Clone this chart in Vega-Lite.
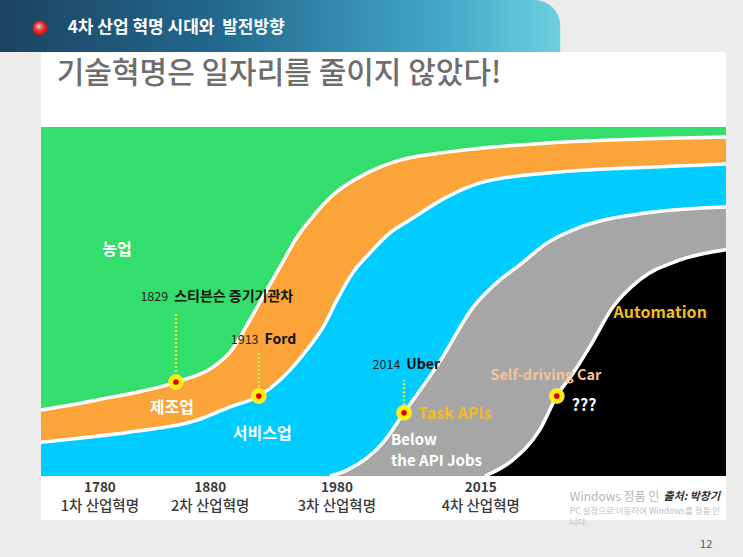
{
  "$schema": "https://vega.github.io/schema/vega-lite/v6.json",
  "width": 685,
  "height": 349,
  "autosize": {"type": "none"},
  "padding": {"left": 41, "top": 127, "right": 17, "bottom": 81},
  "background": "#ececec",
  "view": {"stroke": null},
  "config": {"text": {"font": "Noto Sans CJK KR"}},
  "datasets": {
    "bands": [
      {"s": "agri", "u": 0, "v": 100}, {"s": "agri", "u": 100, "v": 100},
      {"s": "b1", "u": 0, "v": 18.9}, {"s": "b1", "u": 8.2, "v": 21.8}, {"s": "b1", "u": 19.7, "v": 26.9}, {"s": "b1", "u": 25.1, "v": 31.2}, {"s": "b1", "u": 27.6, "v": 35.5}, {"s": "b1", "u": 30.5, "v": 44.7}, {"s": "b1", "u": 32.4, "v": 51.3}, {"s": "b1", "u": 34.9, "v": 59.9}, {"s": "b1", "u": 37.4, "v": 68.5}, {"s": "b1", "u": 39.3, "v": 73.4}, {"s": "b1", "u": 42.6, "v": 80.5}, {"s": "b1", "u": 47.6, "v": 86.8}, {"s": "b1", "u": 52.4, "v": 90.5}, {"s": "b1", "u": 59.3, "v": 92.8}, {"s": "b1", "u": 73.9, "v": 95.4}, {"s": "b1", "u": 88.5, "v": 96.6}, {"s": "b1", "u": 100, "v": 97.1},
      {"s": "b2", "u": 0, "v": 9.7}, {"s": "b2", "u": 13.0, "v": 12.6}, {"s": "b2", "u": 22.8, "v": 16.0}, {"s": "b2", "u": 27.6, "v": 19.8}, {"s": "b2", "u": 31.8, "v": 22.9}, {"s": "b2", "u": 34.9, "v": 27.5}, {"s": "b2", "u": 38.8, "v": 36.1}, {"s": "b2", "u": 41.2, "v": 42.7}, {"s": "b2", "u": 43.2, "v": 50.4}, {"s": "b2", "u": 45.5, "v": 58.2}, {"s": "b2", "u": 48.0, "v": 63.9}, {"s": "b2", "u": 50.9, "v": 69.6}, {"s": "b2", "u": 53.9, "v": 73.4}, {"s": "b2", "u": 59.0, "v": 79.7}, {"s": "b2", "u": 64.1, "v": 84.0}, {"s": "b2", "u": 73.9, "v": 86.8}, {"s": "b2", "u": 88.5, "v": 88.5}, {"s": "b2", "u": 100, "v": 89.4},
      {"s": "b3", "u": 0, "v": 0}, {"s": "b3", "u": 42.2, "v": 0}, {"s": "b3", "u": 44.7, "v": 1.7}, {"s": "b3", "u": 49.9, "v": 9.5}, {"s": "b3", "u": 53.0, "v": 18.1}, {"s": "b3", "u": 58.2, "v": 32.7}, {"s": "b3", "u": 63.1, "v": 48.4}, {"s": "b3", "u": 67.0, "v": 56.2}, {"s": "b3", "u": 69.9, "v": 60.5}, {"s": "b3", "u": 73.9, "v": 66.8}, {"s": "b3", "u": 78.7, "v": 71.3}, {"s": "b3", "u": 88.5, "v": 75.4}, {"s": "b3", "u": 100, "v": 77.1},
      {"s": "b4", "u": 0, "v": 0}, {"s": "b4", "u": 64.8, "v": 0}, {"s": "b4", "u": 68.9, "v": 4.6}, {"s": "b4", "u": 72.8, "v": 13.2}, {"s": "b4", "u": 75.3, "v": 22.9}, {"s": "b4", "u": 77.7, "v": 29.5}, {"s": "b4", "u": 80.1, "v": 37.0}, {"s": "b4", "u": 83.5, "v": 48.4}, {"s": "b4", "u": 87.4, "v": 56.2}, {"s": "b4", "u": 93.3, "v": 61.9}, {"s": "b4", "u": 100, "v": 64.8}
    ],
    "dots": [
      {"u": 19.7, "v": 26.9}, {"u": 31.8, "v": 22.9}, {"u": 53.0, "v": 18.1}, {"u": 75.3, "v": 22.9}
    ],
    "stems": [
      {"u": 19.7, "v": 29.8, "v2": 47.0}, {"u": 31.8, "v": 25.5, "v2": 35.5}, {"u": 53.0, "v": 20.3, "v2": 27.5}
    ],
    "events": [
      {"u": 19.0, "v": 51.3, "year": "1829", "name": "스티븐슨 증기기관차"},
      {"u": 32.2, "v": 39.0, "year": "1913", "name": "Ford"},
      {"u": 52.9, "v": 31.8, "year": "2014", "name": "Uber"}
    ],
    "whiteLabels": [
      {"u": 11.1, "v": 64.8, "t": "농업"},
      {"u": 19.1, "v": 19.5, "t": "제조업"},
      {"u": 32.3, "v": 12.0, "t": "서비스업"},
      {"u": 79.3, "v": 20.1, "t": "???"}
    ],
    "apiLabels": [
      {"u": 51.1, "v": 10.2, "t": "Below"},
      {"u": 51.1, "v": 4.2, "t": "the API Jobs"}
    ],
    "goldLabels": [
      {"u": 90.4, "v": 46.7, "t": "Automation"},
      {"u": 60.4, "v": 17.8, "t": "Task APIs"}
    ],
    "eras": [
      {"u": 8.6, "year": "1780", "era": "1차 산업혁명"},
      {"u": 24.7, "year": "1880", "era": "2차 산업혁명"},
      {"u": 43.2, "year": "1980", "era": "3차 산업혁명"},
      {"u": 64.2, "year": "2015", "era": "4차 산업혁명"}
    ],
    "notes": [
      {"u": 95.0, "v": -6.0, "t": "출처: 박창기"}
    ]
  },
  "layer": [
    {
      "data": {"values": [{}]},
      "mark": {"type": "rect", "color": "#ffffff", "clip": false},
      "encoding": {
        "x": {"datum": 0, "type": "quantitative", "scale": {"domain": [0, 100], "nice": false, "zero": false}, "axis": null}, "x2": {"datum": 100},
        "y": {"datum": -12.6, "type": "quantitative", "scale": {"domain": [0, 100], "nice": false, "zero": false}, "axis": null}, "y2": {"datum": 121.5}
      }
    },
    {
      "data": {"values": [{}]},
      "mark": {"type": "rect", "clip": false, "cornerRadiusTopRight": 30,
        "color": {"gradient": "linear", "x1": 0, "y1": 0, "x2": 1, "y2": 0,
          "stops": [{"offset": 0, "color": "#1b4361"}, {"offset": 0.4, "color": "#236a90"}, {"offset": 0.8, "color": "#45a9c8"}, {"offset": 1, "color": "#6cd0e0"}]}},
      "encoding": {
        "x": {"datum": -6.0, "type": "quantitative"}, "x2": {"datum": 75.8},
        "y": {"datum": 121.5, "type": "quantitative"}, "y2": {"datum": 136.4}
      }
    },
    {
      "data": {"values": [{}]},
      "mark": {"type": "point", "filled": true, "size": 220, "clip": false, "opacity": 1,
        "color": {"gradient": "radial", "x1": 0.4, "y1": 0.35, "r1": 0, "x2": 0.5, "y2": 0.5, "r2": 0.55,
          "stops": [{"offset": 0, "color": "#ffd6d6"}, {"offset": 0.5, "color": "#ec3a3a"}, {"offset": 1, "color": "#b00a0a"}]}},
      "encoding": {
        "x": {"datum": -0.15, "type": "quantitative"},
        "y": {"datum": 128.4, "type": "quantitative"}
      }
    },
    {
      "data": {"values": [{"t": "4차 산업 혁명 시대와\u00a0\u00a0발전방향"}]},
      "mark": {"type": "text", "align": "left", "color": "#ffffff", "fontSize": 17, "fontWeight": "bold", "clip": false},
      "encoding": {
        "x": {"datum": 3.9, "type": "quantitative"},
        "y": {"datum": 128.4, "type": "quantitative"},
        "text": {"field": "t"}
      }
    },
    {
      "data": {"values": [{"t": "기술혁명은 일자리를 줄이지 않았다!"}]},
      "mark": {"type": "text", "align": "left", "color": "#6e6e6e", "fontSize": 30, "fontWeight": 500, "clip": false},
      "encoding": {
        "x": {"datum": 2.3, "type": "quantitative"},
        "y": {"datum": 115.2, "type": "quantitative"},
        "text": {"field": "t"}
      }
    },
    {
      "data": {"name": "bands"},
      "transform": [{"filter": "datum.s === 'agri'"}],
      "mark": {"type": "area", "color": "#34de6c", "opacity": 1, "interpolate": "monotone"},
      "encoding": {"x": {"field": "u", "type": "quantitative"}, "y": {"field": "v", "type": "quantitative"}, "y2": {"datum": 0}}
    },
    {
      "data": {"name": "bands"},
      "transform": [{"filter": "datum.s === 'b1'"}],
      "mark": {"type": "area", "color": "#faa43a", "opacity": 1, "interpolate": "monotone"},
      "encoding": {"x": {"field": "u", "type": "quantitative"}, "y": {"field": "v", "type": "quantitative"}, "y2": {"datum": 0}}
    },
    {
      "data": {"name": "bands"},
      "transform": [{"filter": "datum.s === 'b2'"}],
      "mark": {"type": "area", "color": "#00ccff", "opacity": 1, "interpolate": "monotone"},
      "encoding": {"x": {"field": "u", "type": "quantitative"}, "y": {"field": "v", "type": "quantitative"}, "y2": {"datum": 0}}
    },
    {
      "data": {"name": "bands"},
      "transform": [{"filter": "datum.s === 'b3'"}],
      "mark": {"type": "area", "color": "#a6a6a6", "opacity": 1, "interpolate": "monotone"},
      "encoding": {"x": {"field": "u", "type": "quantitative"}, "y": {"field": "v", "type": "quantitative"}, "y2": {"datum": 0}}
    },
    {
      "data": {"name": "bands"},
      "transform": [{"filter": "datum.s === 'b4'"}],
      "mark": {"type": "area", "color": "#000000", "opacity": 1, "interpolate": "monotone"},
      "encoding": {"x": {"field": "u", "type": "quantitative"}, "y": {"field": "v", "type": "quantitative"}, "y2": {"datum": 0}}
    },
    {
      "data": {"name": "bands"},
      "transform": [{"filter": "datum.s !== 'agri' && (datum.v > 0 || datum.u > 30)"}],
      "mark": {"type": "line", "color": "#ffffff", "strokeWidth": 3.5, "interpolate": "monotone"},
      "encoding": {"x": {"field": "u", "type": "quantitative"}, "y": {"field": "v", "type": "quantitative"}, "detail": {"field": "s"}}
    },
    {
      "data": {"name": "stems"},
      "mark": {"type": "rule", "color": "#d6f040", "strokeWidth": 2.5, "strokeDash": [2, 2]},
      "encoding": {"x": {"field": "u", "type": "quantitative"}, "y": {"field": "v", "type": "quantitative"}, "y2": {"field": "v2"}}
    },
    {
      "data": {"name": "dots"},
      "mark": {"type": "point", "filled": true, "color": "#fff200", "opacity": 1, "size": 210, "stroke": "#ffe94a", "strokeWidth": 1.5, "strokeOpacity": 0.8},
      "encoding": {"x": {"field": "u", "type": "quantitative"}, "y": {"field": "v", "type": "quantitative"}}
    },
    {
      "data": {"name": "dots"},
      "mark": {"type": "point", "filled": true, "color": "#e3001a", "opacity": 1, "size": 32},
      "encoding": {"x": {"field": "u", "type": "quantitative"}, "y": {"field": "v", "type": "quantitative"}}
    },
    {
      "data": {"name": "events"},
      "mark": {"type": "text", "align": "right", "dx": -3, "fontSize": 12.5, "color": "#1e1e1e"},
      "encoding": {"x": {"field": "u", "type": "quantitative"}, "y": {"field": "v", "type": "quantitative"}, "text": {"field": "year"}}
    },
    {
      "data": {"name": "events"},
      "mark": {"type": "text", "align": "left", "dx": 3, "fontSize": 14, "fontWeight": "bold", "color": "#111111"},
      "encoding": {"x": {"field": "u", "type": "quantitative"}, "y": {"field": "v", "type": "quantitative"}, "text": {"field": "name"}}
    },
    {
      "data": {"name": "whiteLabels"},
      "mark": {"type": "text", "align": "center", "fontSize": 16, "fontWeight": "bold", "color": "#ffffff"},
      "encoding": {"x": {"field": "u", "type": "quantitative"}, "y": {"field": "v", "type": "quantitative"}, "text": {"field": "t"}}
    },
    {
      "data": {"name": "apiLabels"},
      "mark": {"type": "text", "align": "left", "fontSize": 15, "fontWeight": "bold", "color": "#ffffff"},
      "encoding": {"x": {"field": "u", "type": "quantitative"}, "y": {"field": "v", "type": "quantitative"}, "text": {"field": "t"}}
    },
    {
      "data": {"name": "goldLabels"},
      "mark": {"type": "text", "align": "center", "fontSize": 16, "fontWeight": "bold", "color": "#f2bc1e"},
      "encoding": {"x": {"field": "u", "type": "quantitative"}, "y": {"field": "v", "type": "quantitative"}, "text": {"field": "t"}}
    },
    {
      "data": {"values": [{"u": 73.7, "v": 28.7, "t": "Self-driving Car"}]},
      "mark": {"type": "text", "align": "center", "fontSize": 14.5, "fontWeight": "bold", "color": "#f3c39a"},
      "encoding": {"x": {"field": "u", "type": "quantitative"}, "y": {"field": "v", "type": "quantitative"}, "text": {"field": "t"}}
    },
    {
      "data": {"name": "eras"},
      "mark": {"type": "text", "align": "center", "fontSize": 13.5, "fontWeight": "bold", "color": "#3a3a3a", "clip": false},
      "encoding": {"x": {"field": "u", "type": "quantitative"}, "y": {"datum": -3.3, "type": "quantitative"}, "text": {"field": "year"}}
    },
    {
      "data": {"name": "eras"},
      "mark": {"type": "text", "align": "center", "fontSize": 14.5, "fontWeight": 500, "color": "#3a3a3a", "clip": false},
      "encoding": {"x": {"field": "u", "type": "quantitative"}, "y": {"datum": -9.0, "type": "quantitative"}, "text": {"field": "era"}}
    },
    {
      "data": {"values": [{"u": 77.2, "v": -6.0, "t": "Windows 정품 인증"}]},
      "mark": {"type": "text", "align": "left", "fontSize": 12, "color": "#b4b4b4", "clip": false, "limit": 90, "ellipsis": "\u200b"},
      "encoding": {"x": {"field": "u", "type": "quantitative"}, "y": {"field": "v", "type": "quantitative"}, "text": {"field": "t"}}
    },
    {
      "data": {"values": [
        {"u": 77.2, "v": -10.0, "t": "PC 설정으로 이동하여 Windows를 정품 인증합"},
        {"u": 77.2, "v": -13.2, "t": "니다."}
      ]},
      "mark": {"type": "text", "align": "left", "fontSize": 8.5, "color": "#bcbcbc", "clip": false, "limit": 158, "ellipsis": "\u200b"},
      "encoding": {"x": {"field": "u", "type": "quantitative"}, "y": {"field": "v", "type": "quantitative"}, "text": {"field": "t"}}
    },
    {
      "data": {"name": "notes"},
      "mark": {"type": "text", "align": "center", "fontSize": 11, "fontWeight": "bold", "fontStyle": "italic", "color": "#333333", "clip": false},
      "encoding": {"x": {"field": "u", "type": "quantitative"}, "y": {"field": "v", "type": "quantitative"}, "text": {"field": "t"}}
    },
    {
      "data": {"values": [{"u": 97.1, "v": -19.7, "t": "12"}]},
      "mark": {"type": "text", "align": "center", "fontSize": 11, "color": "#555555", "clip": false},
      "encoding": {"x": {"field": "u", "type": "quantitative"}, "y": {"field": "v", "type": "quantitative"}, "text": {"field": "t"}}
    }
  ]
}
